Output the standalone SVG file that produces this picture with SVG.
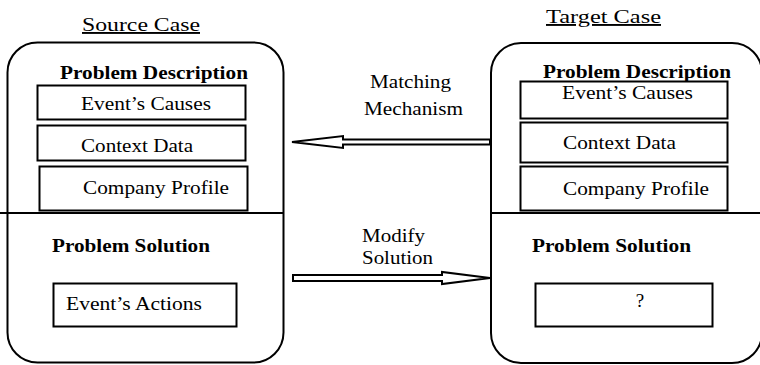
<svg xmlns="http://www.w3.org/2000/svg" width="760" height="365" viewBox="0 0 760 365">
  <style>
    .frame { fill: none; stroke: #000; stroke-width: 2; }
    .box { fill: #fff; stroke: #000; stroke-width: 2; }
    .rule { stroke: #000; stroke-width: 2; }
    .arrow { fill: #fff; stroke: #000; stroke-width: 2; stroke-linejoin: miter; }
    text { font-size: 19px; fill: #000; }
    .head { font-weight: bold; }
    .title { text-decoration: underline; }
  </style>
  <rect width="760" height="365" fill="#fff"/>

  <g font-family="'Liberation Serif', 'DejaVu Serif', serif">
  <!-- source case -->
  <g id="source-case">
    <text class="title" x="82" y="31" textLength="118" lengthAdjust="spacingAndGlyphs">Source Case</text>
    <rect class="frame" x="7.5" y="42.5" width="276" height="320" rx="30" ry="30"/>
    <line class="rule" x1="0" y1="213" x2="283.5" y2="213"/>
    <text class="head" x="60" y="79" textLength="188" lengthAdjust="spacingAndGlyphs">Problem Description</text>
    <rect class="box" x="37.5" y="85.5" width="208" height="34"/>
    <text x="81" y="110" textLength="130" lengthAdjust="spacingAndGlyphs">Event’s Causes</text>
    <rect class="box" x="37.5" y="125.5" width="208" height="35"/>
    <text x="81" y="152" textLength="112" lengthAdjust="spacingAndGlyphs">Context Data</text>
    <rect class="box" x="39.5" y="166.5" width="208" height="44"/>
    <text x="83" y="194" textLength="146" lengthAdjust="spacingAndGlyphs">Company Profile</text>
    <text class="head" x="52" y="252" textLength="158" lengthAdjust="spacingAndGlyphs">Problem Solution</text>
    <rect class="box" x="53.5" y="283.5" width="183" height="43"/>
    <text x="66" y="310" textLength="136" lengthAdjust="spacingAndGlyphs">Event’s Actions</text>
  </g>

  <!-- target case -->
  <g id="target-case">
    <text class="title" x="546" y="23" textLength="115" lengthAdjust="spacingAndGlyphs">Target Case</text>
    <rect class="frame" x="491" y="43" width="271" height="320" rx="30" ry="30"/>
    <line class="rule" x1="491" y1="213" x2="760" y2="213"/>
    <text class="head" x="543" y="78" textLength="188" lengthAdjust="spacingAndGlyphs">Problem Description</text>
    <rect class="box" x="520.5" y="81.5" width="207" height="37"/>
    <text x="562" y="99" textLength="131" lengthAdjust="spacingAndGlyphs">Event’s Causes</text>
    <rect class="box" x="520.5" y="122.5" width="207" height="40"/>
    <text x="563" y="149" textLength="113" lengthAdjust="spacingAndGlyphs">Context Data</text>
    <rect class="box" x="520.5" y="166.5" width="207" height="44"/>
    <text x="563" y="195" textLength="146" lengthAdjust="spacingAndGlyphs">Company Profile</text>
    <text class="head" x="532" y="252" textLength="159" lengthAdjust="spacingAndGlyphs">Problem Solution</text>
    <rect class="box" x="535.5" y="283.5" width="177" height="43"/>
    <text x="640" y="307" text-anchor="middle">?</text>
  </g>

  <!-- connectors -->
  <g id="connectors">
    <g id="matching-mechanism">
      <polygon class="arrow" points="292,142 343,136 343,139.5 490,139.5 490,144.5 343,144.5 343,148"/>
      <text x="370" y="88" textLength="81" lengthAdjust="spacingAndGlyphs">Matching</text>
      <text x="364" y="115" textLength="99" lengthAdjust="spacingAndGlyphs">Mechanism</text>
    </g>
    <g id="modify-solution">
      <polygon class="arrow" points="293,275 442,275 442,272 490,278 442,284 442,281 293,281"/>
      <text x="362" y="242" textLength="63" lengthAdjust="spacingAndGlyphs">Modify</text>
      <text x="362" y="264" textLength="71" lengthAdjust="spacingAndGlyphs">Solution</text>
    </g>
  </g>
  </g>
</svg>
